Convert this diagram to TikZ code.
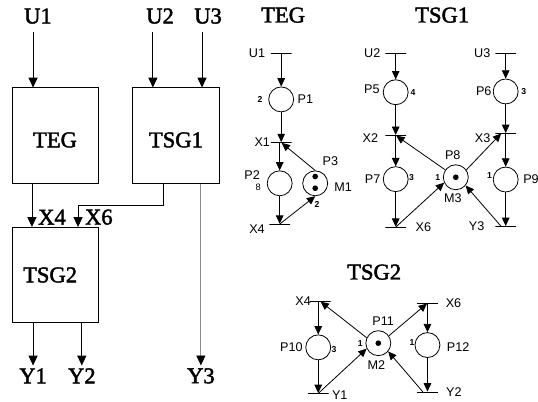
\documentclass[tikz,border=0pt]{standalone}
\usepackage{fontspec}
\usetikzlibrary{positioning, arrows.meta}
\setmainfont{Liberation Sans}
\newfontfamily\titlefont[FakeBold=2]{Liberation Serif}

\begin{document}
\begin{tikzpicture}[
    on grid,
    line width=0.6pt,
    box/.style={draw, rectangle, minimum width=2.28cm, minimum height=2.52cm, align=center, font=\titlefont\fontsize{17}{19}\selectfont},
    title/.style={font=\titlefont\fontsize{17}{19}\selectfont},
    place/.style={draw, circle, minimum size=0.66cm, inner sep=0pt},
    trans/.style={draw, rectangle, minimum width=0.55cm, minimum height=0pt, inner sep=0pt},
    token/.style={circle, fill, minimum size=0.15cm, inner sep=0pt},
    txt/.style={font=\fontsize{9.5}{11}\selectfont, inner sep=0pt},
    num/.style={font=\fontsize{6.5}{7}\selectfont\bfseries, inner sep=0pt},
    arrow/.style={-{Triangle[length=0.22cm, width=0.2cm]}},
    bigarrow/.style={-{Triangle[length=0.26cm, width=0.24cm, black]}}
]
\useasboundingbox (0,0) rectangle (14.235,-10.61);

% Block diagram
\node[box, text height=0.63cm] (teg) at (1.455,-3.585) {TEG};
\node[box, right=3.20cm of teg, text height=0.63cm] (tsg1) {TSG1};
\node[box, below=3.69cm of teg] (tsg2) {TSG2\hspace{0.26cm}};

\node[title, above left=3.16cm and 0.45cm of teg] (u1) {U1};
\node[title, above left=3.16cm and 0.42cm of tsg1] (u2) {U2};
\node[title, above right=3.16cm and 0.85cm of tsg1] (u3) {U3};
\node[title, below left=2.67cm and 0.58cm of tsg2] (y1) {Y1};
\node[title, below right=2.67cm and 0.71cm of tsg2] (y2) {Y2};
\node[title, right=3.15cm of y2] (y3) {Y3};
\node[title, above left=1.53cm and 0.08cm of tsg2] (x4) {X4};
\node[title, above right=1.53cm and 1.16cm of tsg2] (x6) {X6};

\draw[bigarrow] ([xshift=-0.13cm, yshift=-0.1cm]u1.south) -- ([xshift=-0.13cm]u1.south |- teg.north);
\draw[bigarrow] ([xshift=-0.19cm, yshift=-0.1cm]u2.south) -- ([xshift=-0.19cm]u2.south |- tsg1.north);
\draw[bigarrow] ([xshift=-0.16cm, yshift=-0.1cm]u3.south) -- ([xshift=-0.16cm]u3.south |- tsg1.north);
\draw[bigarrow] ([xshift=-0.61cm]teg.south) -- ([xshift=-0.61cm]tsg2.north);
\draw[bigarrow] ([xshift=-0.34cm]tsg1.south) |- ([xshift=0.61cm, yshift=0.58cm]tsg2.north) -- ([xshift=0.61cm]tsg2.north);
\draw[bigarrow] (y1 |- tsg2.south) -- ([yshift=-0.05cm]y1.north);
\draw[bigarrow] (y2 |- tsg2.south) -- ([yshift=-0.05cm]y2.north);
\draw[bigarrow, black!45] (y3 |- tsg1.south) -- ([yshift=-0.05cm]y3.north);

% TEG net
\node[title] (tegtitle) at (7.49,-0.40) {TEG};
\node[trans, below left=1.01cm and 0.05cm of tegtitle] (tu1) {};
\node[place, below=1.22cm of tu1] (p1) {};
\node[trans, below=1.14cm of p1] (x1) {};
\node[place, below left=1.08cm and 0.04cm of x1] (p2) {};
\node[trans, below=1.08cm of p2] (tx4) {};
\node[place, right=0.94cm of p2] (p3) {};
\node[token, above=0.18cm of p3] (m1a) {};
\node[token, below=0.13cm of p3] (m1b) {};

\node[txt, left=0.64cm of tu1] (lu1) {U1};
\node[txt, right=0.64cm of p1] (lp1) {P1};
\node[num, left=0.56cm of p1] (n1) {2};
\node[txt, left=0.50cm of x1] (lx1) {X1};
\node[txt, above left=0.21cm and 0.73cm of p2] (lp2) {P2};
\node[txt, font=\fontsize{7}{8}\selectfont, below left=0.11cm and 0.57cm of p2] (n2) {8};
\node[txt, below left=0.13cm and 0.60cm of tx4] (lx4) {X4};
\node[txt, above right=0.58cm and 0.40cm of p3] (lp3) {P3};
\node[txt, below right=0.11cm and 0.74cm of p3] (lm1) {M1};
\node[num, below right=0.56cm and 0.05cm of p3] (n3) {2};

\draw[arrow] (tu1) -- (p1);
\draw[arrow] (p1) -- (x1);
\draw[arrow] (x1 -| p2) -- (p2);
\draw[arrow] (p2) -- (tx4);
\draw[arrow] (tx4) -- (p3.south);
\draw[arrow] (p3.north) -- (x1);

% TSG1 net
\node[title] (tsgonetitle) at (11.70,-0.40) {TSG1};
\node[trans, below left=1.01cm and 1.23cm of tsgonetitle] (tu2) {};
\node[place, below=1.03cm of tu2] (p5) {};
\node[trans, below=1.14cm of p5] (x2) {};
\node[place, below=1.16cm of x2] (p7) {};
\node[trans, below=1.27cm of p7] (tx6) {};
\node[trans, right=2.91cm of tu2] (tu3) {};
\node[place, below=1.01cm of tu3] (p6) {};
\node[trans, below=1.11cm of p6] (x3) {};
\node[place, below=1.22cm of x3] (p9) {};
\node[trans, below=1.24cm of p9] (ty3) {};
\node[place, above right=0.05cm and 1.59cm of p7] (p8) {};
\node[token] (m3a) at (p8) {};

\node[txt, left=0.62cm of tu2] (lu2) {U2};
\node[txt, above left=0.08cm and 0.63cm of p5] (lp5) {P5};
\node[num, right=0.46cm of p5] (n5) {4};
\node[txt, below left=0.08cm and 0.67cm of x2] (lx2) {X2};
\node[txt, left=0.61cm of p7] (lp7) {P7};
\node[num, above right=0.05cm and 0.42cm of p7] (n7) {3};
\node[txt, right=0.73cm of tx6] (lx6) {X6};
\node[txt, above left=0.58cm and 0.08cm of p8] (lp8) {P8};
\node[txt, below left=0.56cm and 0.08cm of p8] (lm3) {M3};
\node[num, left=0.48cm of p8] (n8) {1};
\node[txt, left=0.62cm of tu3] (lu3) {U3};
\node[txt, left=0.58cm of p6] (lp6) {P6};
\node[num, right=0.48cm of p6] (n6) {3};
\node[txt, below left=0.13cm and 0.61cm of x3] (lx3) {X3};
\node[num, above left=0.10cm and 0.43cm of p9] (n9) {1};
\node[txt, right=0.67cm of p9] (lp9) {P9};
\node[txt, left=0.77cm of ty3] (ly3) {Y3};

\draw[arrow] (tu2) -- (p5);
\draw[arrow] (p5) -- (x2);
\draw[arrow] (x2) -- (p7);
\draw[arrow] (p7) -- (tx6);
\draw[arrow] (tu3) -- (p6);
\draw[arrow] (p6) -- (x3);
\draw[arrow] (x3) -- (p9);
\draw[arrow] (p9) -- (ty3);
\draw[arrow] (p8.145) -- (x2);
\draw[arrow] (tx6) -- (p8.205);
\draw[arrow] (p8.35) -- ([xshift=-0.12cm]x3.center);
\draw[arrow] ([xshift=-0.12cm]ty3.center) -- (p8.320);

% TSG2 net
\node[title] (tsgtwotitle) at (9.90,-7.20) {TSG2};
\node[trans, below left=0.77cm and 1.43cm of tsgtwotitle] (t2x4) {};
\node[place, below left=1.22cm and 0.05cm of t2x4] (p10) {};
\node[trans, below=1.22cm of p10] (ty1) {};
\node[place, above right=0.11cm and 1.59cm of p10] (p11) {};
\node[token] (m2a) at (p11) {};
\node[trans, above right=1.06cm and 1.30cm of p11] (t2x6) {};
\node[place, below=1.11cm of t2x6] (p12) {};
\node[trans, below=1.24cm of p12] (ty2) {};

\node[txt, left=0.45cm of t2x4] (l2x4) {X4};
\node[txt, left=0.71cm of p10] (lp10) {P10};
\node[num, below right=0.05cm and 0.42cm of p10] (n10) {3};
\node[txt, below right=0.05cm and 0.57cm of ty1] (ly1) {Y1};
\node[txt, above right=0.58cm and 0.13cm of p11] (lp11) {P11};
\node[txt, below left=0.58cm and 0.05cm of p11] (lm2) {M2};
\node[num, left=0.48cm of p11] (n11) {1};
\node[txt, right=0.69cm of t2x6] (l2x6) {X6};
\node[num, above left=0.08cm and 0.41cm of p12] (n12) {1};
\node[txt, below right=0.05cm and 0.81cm of p12] (lp12) {P12};
\node[txt, right=0.70cm of ty2] (ly2) {Y2};

\draw[arrow] (t2x4 -| p10) -- (p10);
\draw[arrow] (p10) -- (ty1);
\draw[arrow] (t2x6) -- (p12);
\draw[arrow] (p12) -- (ty2);
\draw[arrow] (p11.155) -- (t2x4);
\draw[arrow] (ty1) -- (p11.205);
\draw[arrow] (p11.35) -- (t2x6);
\draw[arrow] ([xshift=-0.12cm]ty2.center) -- (p11.320);

\end{tikzpicture}
\end{document}
